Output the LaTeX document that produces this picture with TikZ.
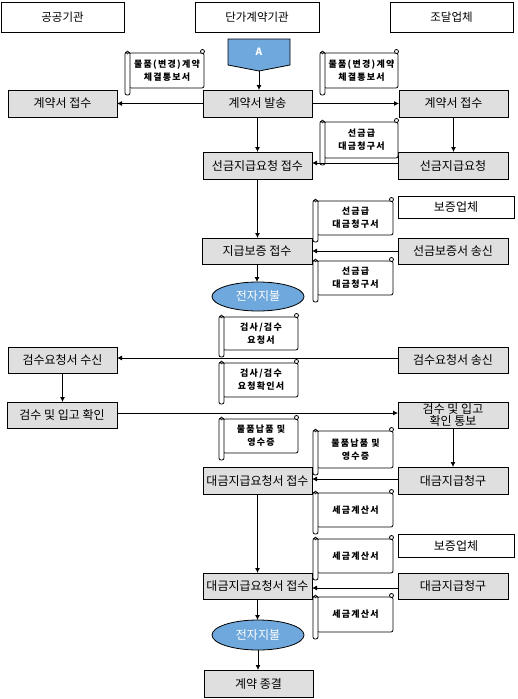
\documentclass[tikz,border=0pt]{standalone}
\usepackage{fontspec}
\setmainfont{Noto Sans CJK KR}
\newfontfamily\scrollfam[LetterSpace=14]{Noto Sans CJK KR}
\newcommand\mydocfont{\scrollfam\bfseries\fontsize{9}{13}\selectfont}
\usetikzlibrary{arrows.meta,shapes.geometric}
\definecolor{boxgray}{RGB}{223,223,223}
\definecolor{payblue}{RGB}{111,168,220}
\newcommand\docroll[6]{%
  \draw[line width=0.8pt,fill=white,rounded corners=2pt] ({#2+4},{#3+4}) -- ({#4},{#3+4}) -- ({#4},{#5-7}) -- ({#2+4},{#5-7}) -- cycle;
  \draw[line width=0.8pt,fill=white] ({#4-1.5},{#3+2.5}) circle (2pt);
  \draw[line width=0.8pt,fill=white,rounded corners=2pt] (#2,{#3+3}) rectangle ({#2+5},#5);
  \draw[line width=0.6pt] ({#2+2.5},{#3+3.5}) circle (1.5pt);
  \node[doctext] (#1) at ({(#2+#4+5)/2},{(#3+#5-3)/2}) {#6};
}
\begin{document}
\begin{tikzpicture}[x=1pt,y=-1pt,
  every node/.style={inner sep=0pt,outer sep=0pt},
  arr/.style={line width=0.8pt,-{Latex[length=5pt,width=5pt]}},
  hdr/.style={draw,line width=0.8pt,fill=white,minimum height=30pt,font=\fontsize{11.5}{13}\selectfont},
  proc/.style={draw,line width=0.8pt,fill=boxgray,minimum width=109pt,minimum height=27pt,font=\fontsize{12}{13}\selectfont},
  party/.style={draw,line width=0.8pt,fill=white,minimum width=116pt,minimum height=22pt,font=\fontsize{12}{13}\selectfont},
  pay/.style={ellipse,draw,line width=0.8pt,fill=payblue,text=white,minimum width=92pt,minimum height=29pt,font=\fontsize{12}{13}\selectfont},
  doctext/.style={align=center,font=\mydocfont}
]
\useasboundingbox (0,0) rectangle (517,699);
% headers
\node[hdr,minimum width=123pt] (h1) at (62.5,17) {공공기관};
\node[hdr,minimum width=124pt] (h2) at (257,17) {단가계약기관};
\node[hdr,minimum width=123pt] (h3) at (451.5,17) {조달업체};
% A connector
\draw[line width=0.8pt,fill=payblue] (228,39) -- (290,39) -- (290,65) -- (259,71) -- (228,65) -- cycle;
\node[text=white,font=\bfseries\fontsize{10}{12}\selectfont] (A) at (259,52) {A};
\coordinate (Atip) at (259,71);
% process boxes
\node[proc] (b1) at (62.5,103.5) {계약서 접수};
\node[proc] (b2) at (257.5,103.5) {계약서 발송};
\node[proc] (b3) at (453.5,103.5) {계약서 접수};
\node[proc] (b4) at (257.5,165.5) {선금지급요청 접수};
\node[proc,minimum width=110pt] (b5) at (453,165.5) {선금지급요청};
\node[party] (g1) at (456,207) {보증업체};
\node[proc,minimum width=110pt,minimum height=26pt] (b6) at (257,251) {지급보증 접수};
\node[proc,minimum width=110pt,minimum height=26pt] (b7) at (453,251) {선금보증서 송신};
\node[pay] (e1) at (258,296.5) {전자지불};
\node[proc,minimum height=26pt] (b8) at (62.5,360) {검수요청서 수신};
\node[proc,minimum width=110pt,minimum height=26pt] (b9) at (453,360) {검수요청서 송신};
\node[proc,minimum width=110pt,minimum height=26pt] (b10) at (62,415) {검수 및 입고 확인};
\node[proc,minimum width=110pt,minimum height=26pt,align=center,font=\fontsize{12}{12}\selectfont] (b11) at (453,415) {검수 및 입고\\확인 통보};
\node[proc] (b12) at (257.5,480.5) {대금지급요청서 접수};
\node[proc,minimum width=110pt] (b13) at (453,480.5) {대금지급청구};
\node[party,minimum height=23pt] (g2) at (456,545.5) {보증업체};
\node[proc,minimum height=26pt] (b14) at (257.5,586) {대금지급요청서 접수};
\node[proc,minimum width=110pt,minimum height=26pt] (b15) at (453,586) {대금지급청구};
\node[pay,minimum height=30pt] (e2) at (258,635) {전자지불};
\node[proc] (b16) at (258.5,683.5) {계약 종결};
% connectors
\draw[arr] (Atip) -- (Atip |- b2.north);
\draw[arr] (b2.west) -- (b1.east);
\draw[arr] (b2.east) -- (b3.west);
\draw[arr] (b2.south) -- (b4.north);
\draw[arr] (b3.south) -- (b3.south |- b5.north);
\draw[arr] (b4.south) -- (b4.south |- b6.north);
\draw[arr] (b6.south) -- (b6.south |- e1.north);
\draw[arr] (b8.south) -- (b8.south |- b10.north);
\draw[arr] (b11.south) -- (b11.south |- b13.north);
\draw[arr] (b12.south) -- (b14.north);
\draw[arr] (b14.south) -- (b14.south |- e2.north);
\draw[arr] (e2.south) -- (e2.south |- b16.north);
% documents
\docroll{s1}{125}{49}{204}{95}{물품(변경)계약\\체결통보서}
\docroll{s2}{320}{49}{398}{95}{물품(변경)계약\\체결통보서}
\docroll{s3}{320}{118}{398}{165}{선금급\\대금청구서}
\docroll{s4}{313}{197}{393}{242}{선금급\\대금청구서}
\docroll{s5}{313}{257}{393}{302}{선금급\\대금청구서}
\docroll{s6}{219}{313}{298}{357}{검사/검수\\요청서}
\docroll{s7}{219}{359}{298}{404}{검사/검수\\요청확인서}
\docroll{s8}{219}{415}{298}{460}{물품납품 및\\영수증}
\docroll{s9}{313}{427}{393}{475}{물품납품 및\\영수증}
\docroll{s10}{313}{489}{393}{534}{세금계산서}
\docroll{s11}{313}{535}{393}{580}{세금계산서}
\docroll{s12}{313}{593}{393}{639}{세금계산서}
% horizontal flows
\draw[arr] ([yshift=2.5pt]b5.west) -- ([yshift=2.5pt]b5.west -| b4.east);
\draw[arr] (b7.west) -- (b6.east);
\draw[arr] ([yshift=2pt]b9.west) -- ([yshift=2pt]b9.west -| b8.east);
\draw[arr] ([yshift=2pt]b10.east) -- ([yshift=2pt]b10.east -| b11.west);
\draw[arr] ([yshift=1.5pt]b13.west) -- ([yshift=1.5pt]b13.west -| b12.east);
\draw[arr] ([yshift=-2pt]b15.west) -- ([yshift=-2pt]b15.west -| b14.east);
\end{tikzpicture}
\end{document}
